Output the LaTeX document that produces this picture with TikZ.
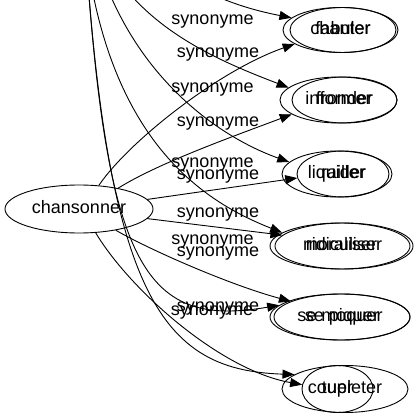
\documentclass[tikz,border=0pt]{standalone}
\usepackage{fontspec}
\setmainfont{Liberation Sans}
\usetikzlibrary{shapes.geometric,arrows.meta}
\begin{document}
\begin{tikzpicture}[x=1pt,y=-1pt,
  vn/.style={ellipse, draw, line width=0.9pt, inner sep=0pt, text height=12.6pt, text depth=3.6pt, font=\fontsize{18}{21}\selectfont},
  lab/.style={inner sep=0pt, anchor=base, font=\fontsize{18}{21}\selectfont},
  edge/.style={line width=0.9pt, -{Triangle[length=12pt,width=9pt]}}]
\useasboundingbox (0,0) rectangle (418,419);
\clip (0,0) rectangle (418,419);
\fill[white] (0,0) rectangle (418,419);
% centre nodes
\node[vn, minimum width=148pt, minimum height=48pt] (c) at (79,209) {chansonner};
\coordinate (bs) at (80,-150);
% right-hand nodes (two overlaid graphs)
\node[vn, minimum width=115pt, minimum height=45pt] (n1a) at (340.5,30) {chanter};
\node[vn, minimum width=106pt, minimum height=45pt] (n1b) at (343,30) {fabuler};
\node[vn, minimum width=105pt, minimum height=46pt] (n2a) at (344.5,100) {fronder};
\node[vn, minimum width=117pt, minimum height=46pt] (n2b) at (338.5,100) {informer};
\node[vn, minimum width=92pt, minimum height=46pt] (n3a) at (343,174) {railler};
\node[vn, minimum width=110pt, minimum height=46pt] (n3b) at (337,174) {liquider};
\node[vn, minimum width=138pt, minimum height=46pt] (n4a) at (344,246) {ridiculiser};
\node[vn, minimum width=140pt, minimum height=46pt] (n4b) at (340,246) {moraliser};
\node[vn, minimum width=140pt, minimum height=46pt] (n5a) at (340,317) {se moquer};
\node[vn, minimum width=136pt, minimum height=46pt] (n5b) at (342,317) {se piquer};
\node[vn, minimum width=71pt, minimum height=47pt] (n6a) at (337.5,389) {tuer};
\node[vn, minimum width=126pt, minimum height=47pt] (n6b) at (345,389) {coupleter};
% graph A edges
\draw[edge] (c.50) .. controls (130,140) and (220,70) .. (n1a.197);
\draw[edge] (c.28) .. controls (160,162) and (240,134) .. (n2b.197);
\draw[edge] (c.8) -- (n3a.185);
\draw[edge] (c.-8) -- (n4a.170);
\draw[edge] (c.330) .. controls (150,250) and (230,285) .. (n5b.163);
\draw[edge] (c.305) .. controls (130,290) and (220,370) .. (n6a.173);
% graph B edges (source above the picture)
\draw[edge] (bs) .. controls (130,-40) and (200,0) .. (n1a.166);
\draw[edge] (bs) .. controls (80,0) and (190,50) .. (n2b.166);
\draw[edge] (bs) .. controls (85,40) and (200,130) .. (n3b.166);
\draw[edge] (bs) .. controls (80,130) and (200,200) .. (n4b.167);
\draw[edge] (bs) .. controls (100,260) and (135,330) .. (n5a.169);
\draw[edge] (bs) .. controls (100,290) and (155,370) .. (n6b.164);
% edge labels
\node[lab] (l1) at (212.5,24.5) {synonyme};
\node[lab] (l2) at (218,57.5) {synonyme};
\node[lab] (l3) at (212.5,92.5) {synonyme};
\node[lab] (l4) at (218,126.5) {synonyme};
\node[lab] (l5) at (212.5,167.5) {synonyme};
\node[lab] (l6) at (218,179.5) {synonyme};
\node[lab] (l7) at (218,217.5) {synonyme};
\node[lab] (l8) at (212.5,244.5) {synonyme};
\node[lab] (l9) at (218,256.5) {synonyme};
\node[lab] (l10) at (218,311.5) {synonyme};
\node[lab] (l11) at (212,315.5) {synonyme};
\end{tikzpicture}
\end{document}
